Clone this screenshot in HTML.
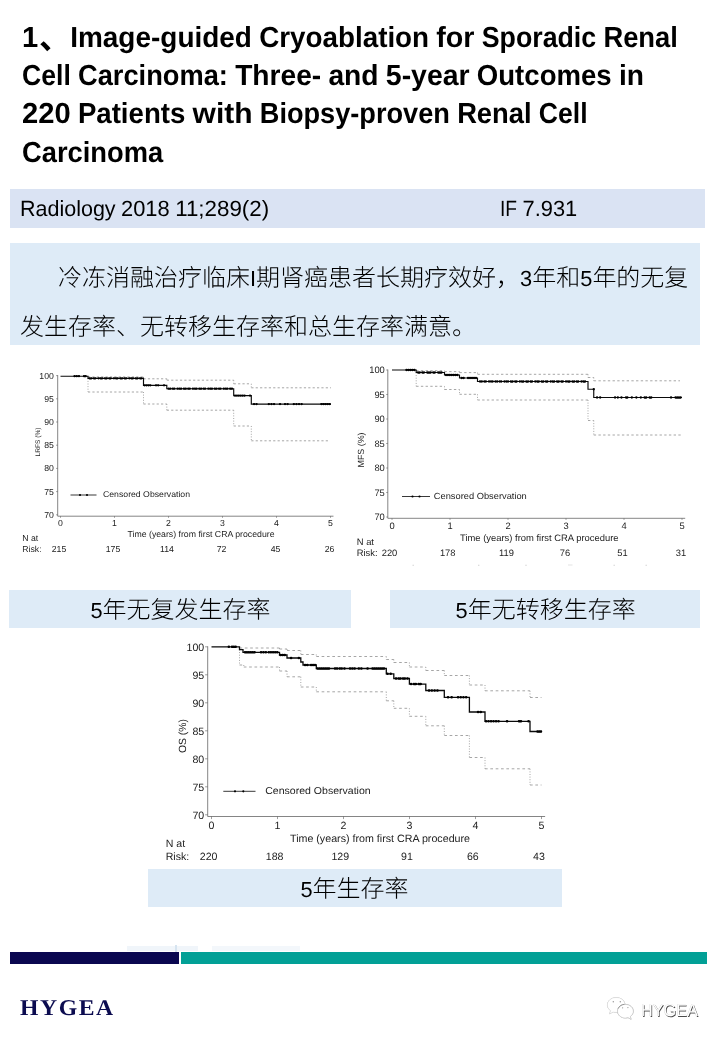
<!DOCTYPE html>
<html lang="zh"><head><meta charset="utf-8"><title>Image-guided Cryoablation for Sporadic Renal Cell Carcinoma</title>
<style>
html,body{margin:0;padding:0;background:#fff}
body{width:720px;height:1040px;position:relative;overflow:hidden;font-family:"Liberation Sans","Noto Sans CJK SC",sans-serif;color:#000;text-rendering:geometricPrecision;font-kerning:normal}
.abs{position:absolute}
.tl{position:absolute;left:22px;white-space:pre;font-weight:bold;font-size:29px;line-height:36px;height:36px;transform:scaleX(0.95);transform-origin:0 0;letter-spacing:0}
.box{position:absolute}
.bt{position:absolute;white-space:pre;font-size:22px;line-height:26px;height:26px;transform:scaleX(0.971);transform-origin:0 0}
svg text{font-family:"Liberation Sans","Noto Sans CJK SC",sans-serif;text-rendering:geometricPrecision}
#ov{position:absolute;left:0;top:0}
#root{position:absolute;left:0;top:0;width:720px;height:1040px;will-change:transform}
.hy{position:absolute;left:20px;top:994.2px;letter-spacing:1.5px;font-family:"Liberation Serif",serif;font-weight:bold;font-size:22.5px;line-height:28px;color:#0c0c50;white-space:pre;transform:scaleX(1.053);transform-origin:0 0}
.wm{position:absolute;left:640.7px;top:999.5px;font-size:17.2px;line-height:20px;color:#fff;white-space:pre;text-shadow:0.7px 0.7px 0.5px #4a4a4a,-0.3px -0.3px 0.4px #c8c8c8;transform:scaleX(0.945);transform-origin:0 0}
</style></head>
<body>
<div id="root">
<div class="box" style="left:10px;top:188.8px;width:695px;height:39.1px;background:#dae3f3"></div>

<div class="box" style="left:10px;top:243px;width:690px;height:102px;background:#deebf7"></div>
<div class="box" style="left:9px;top:590px;width:342px;height:38px;background:#deebf7"></div>
<div class="box" style="left:390px;top:590px;width:310px;height:38px;background:#deebf7"></div>
<div class="box" style="left:148px;top:869px;width:414px;height:38px;background:#deebf7"></div>

<div class="box" style="left:127px;top:945.5px;width:71px;height:5px;background:#f0f5fa"></div>
<div class="box" style="left:212px;top:945.5px;width:88px;height:5px;background:#f3f7fb"></div>
<div class="box" style="left:175px;top:945px;width:2px;height:6.5px;background:#d6e4f0"></div>
<div class="box" style="left:10px;top:951.7px;width:169.3px;height:12.3px;background:#0a0750"></div>
<div class="box" style="left:180.5px;top:951.7px;width:526.3px;height:12.3px;background:#02a096"></div>
<div class="hy">HYGEA</div>
<div class="wm">HYGEA</div>

<svg id="ov" width="720" height="1040" viewBox="0 0 720 1040">
<g id="cjk">
<text x="58.00" y="286.00" font-size="24" font-weight="300" fill="#000" textLength="192" lengthAdjust="spacingAndGlyphs">冷冻消融治疗临床</text>
<text x="250.00" y="286.00" font-size="21.8" font-weight="normal" fill="#000">I</text>
<text x="256.05" y="286.00" font-size="24" font-weight="300" fill="#000" textLength="264" lengthAdjust="spacingAndGlyphs">期肾癌患者长期疗效好，</text>
<text x="520.05" y="286.00" font-size="21.8" font-weight="normal" fill="#000">3</text>
<text x="532.22" y="286.00" font-size="24" font-weight="300" fill="#000" textLength="48" lengthAdjust="spacingAndGlyphs">年和</text>
<text x="580.22" y="286.00" font-size="21.8" font-weight="normal" fill="#000">5</text>
<text x="592.39" y="286.00" font-size="24" font-weight="300" fill="#000" textLength="96" lengthAdjust="spacingAndGlyphs">年的无复</text>
<text x="20.00" y="335.00" font-size="24" font-weight="300" fill="#000" textLength="456" lengthAdjust="spacingAndGlyphs">发生存率、无转移生存率和总生存率满意。</text>
<text x="90.41" y="618.00" font-size="21.8" font-weight="normal" fill="#000">5</text>
<text x="102.58" y="618.00" font-size="24" font-weight="300" fill="#000" textLength="168" lengthAdjust="spacingAndGlyphs">年无复发生存率</text>
<text x="455.51" y="618.00" font-size="21.8" font-weight="normal" fill="#000">5</text>
<text x="467.69" y="618.00" font-size="24" font-weight="300" fill="#000" textLength="168" lengthAdjust="spacingAndGlyphs">年无转移生存率</text>
<text x="300.42" y="897.00" font-size="21.8" font-weight="normal" fill="#000">5</text>
<text x="312.59" y="897.00" font-size="24" font-weight="300" fill="#000" textLength="96" lengthAdjust="spacingAndGlyphs">年生存率</text>
<text x="38.90" y="48.60" font-size="32" font-weight="bold" fill="#000">、</text>
</g>
<g id="latin">
<text y="46.80" font-size="29" font-weight="bold" fill="#000" xml:space="preserve"><tspan x="22.00" textLength="16.22" lengthAdjust="spacingAndGlyphs">1</tspan></text>
<text y="46.80" font-size="29" font-weight="bold" fill="#000" xml:space="preserve"><tspan x="70.20" textLength="181.75" lengthAdjust="spacingAndGlyphs">Image-guided</tspan> <tspan x="259.18" textLength="169.91" lengthAdjust="spacingAndGlyphs">Cryoablation</tspan> <tspan x="436.32" textLength="38.22" lengthAdjust="spacingAndGlyphs">for</tspan> <tspan x="481.78" textLength="114.39" lengthAdjust="spacingAndGlyphs">Sporadic</tspan> <tspan x="603.40" textLength="74.48" lengthAdjust="spacingAndGlyphs">Renal</tspan></text>
<text y="85.10" font-size="29" font-weight="bold" fill="#000" xml:space="preserve"><tspan x="22.00" textLength="48.77" lengthAdjust="spacingAndGlyphs">Cell</tspan> <tspan x="78.00" textLength="149.94" lengthAdjust="spacingAndGlyphs">Carcinoma:</tspan> <tspan x="235.17" textLength="86.05" lengthAdjust="spacingAndGlyphs">Three-</tspan> <tspan x="328.45" textLength="50.14" lengthAdjust="spacingAndGlyphs">and</tspan> <tspan x="385.83" textLength="83.78" lengthAdjust="spacingAndGlyphs">5-year</tspan> <tspan x="476.84" textLength="134.83" lengthAdjust="spacingAndGlyphs">Outcomes</tspan> <tspan x="618.91" textLength="25.03" lengthAdjust="spacingAndGlyphs">in</tspan></text>
<text y="123.40" font-size="29" font-weight="bold" fill="#000" xml:space="preserve"><tspan x="22.00" textLength="48.66" lengthAdjust="spacingAndGlyphs">220</tspan> <tspan x="77.89" textLength="107.48" lengthAdjust="spacingAndGlyphs">Patients</tspan> <tspan x="192.61" textLength="59.97" lengthAdjust="spacingAndGlyphs">with</tspan> <tspan x="259.81" textLength="190.09" lengthAdjust="spacingAndGlyphs">Biopsy-proven</tspan> <tspan x="457.14" textLength="74.48" lengthAdjust="spacingAndGlyphs">Renal</tspan> <tspan x="538.86" textLength="48.77" lengthAdjust="spacingAndGlyphs">Cell</tspan></text>
<text y="161.70" font-size="29" font-weight="bold" fill="#000" xml:space="preserve"><tspan x="22.00" textLength="141.11" lengthAdjust="spacingAndGlyphs">Carcinoma</tspan></text>
<text y="215.90" font-size="22" font-weight="normal" fill="#000" xml:space="preserve"><tspan x="20.00" textLength="95.62" lengthAdjust="spacingAndGlyphs">Radiology</tspan> <tspan x="121.06" textLength="48.66" lengthAdjust="spacingAndGlyphs">2018</tspan> <tspan x="175.16" textLength="93.97" lengthAdjust="spacingAndGlyphs">11;289(2)</tspan></text>
<text y="215.90" font-size="22" font-weight="normal" fill="#000" xml:space="preserve"><tspan x="500.00" textLength="17.08" lengthAdjust="spacingAndGlyphs">IF</tspan> <tspan x="522.52" textLength="54.72" lengthAdjust="spacingAndGlyphs">7.931</tspan></text>
</g>
<g id="chart1">
<path d="M57.70 375.10V516.20H333.47" fill="none" stroke="#5c5c5c" stroke-width="0.75"/>
<path d="M56.10 375.60H57.70M56.10 398.80H57.70M56.10 422.00H57.70M56.10 445.20H57.70M56.10 468.40H57.70M56.10 491.60H57.70M56.10 514.80H57.70M60.50 516.20V517.80M114.50 516.20V517.80M168.50 516.20V517.80M222.50 516.20V517.80M276.50 516.20V517.80M330.50 516.20V517.80" fill="none" stroke="#5c5c5c" stroke-width="0.6"/>
<text x="53.80" y="378.69" font-size="8.7" text-anchor="end" fill="#222">100</text>
<text x="53.80" y="401.89" font-size="8.7" text-anchor="end" fill="#222">95</text>
<text x="53.80" y="425.09" font-size="8.7" text-anchor="end" fill="#222">90</text>
<text x="53.80" y="448.29" font-size="8.7" text-anchor="end" fill="#222">85</text>
<text x="53.80" y="471.49" font-size="8.7" text-anchor="end" fill="#222">80</text>
<text x="53.80" y="494.69" font-size="8.7" text-anchor="end" fill="#222">75</text>
<text x="53.80" y="517.89" font-size="8.7" text-anchor="end" fill="#222">70</text>
<text x="60.50" y="526.39" font-size="8.7" text-anchor="middle" fill="#222">0</text>
<text x="114.50" y="526.39" font-size="8.7" text-anchor="middle" fill="#222">1</text>
<text x="168.50" y="526.39" font-size="8.7" text-anchor="middle" fill="#222">2</text>
<text x="222.50" y="526.39" font-size="8.7" text-anchor="middle" fill="#222">3</text>
<text x="276.50" y="526.39" font-size="8.7" text-anchor="middle" fill="#222">4</text>
<text x="330.50" y="526.39" font-size="8.7" text-anchor="middle" fill="#222">5</text>
<text x="127.50" y="536.89" font-size="8.7" fill="#222" textLength="147" lengthAdjust="spacingAndGlyphs">Time (years) from first CRA procedure</text>
<text transform="translate(39.80,442.00) rotate(-90)" font-size="6.6" text-anchor="middle" fill="#222">LRFS (%)</text>
<text x="22.30" y="541.39" font-size="8.7" fill="#222">N at</text>
<text x="22.30" y="552.09" font-size="8.7" fill="#222">Risk:</text>
<text x="59.00" y="552.09" font-size="8.7" text-anchor="middle" fill="#222">215</text>
<text x="113.00" y="552.09" font-size="8.7" text-anchor="middle" fill="#222">175</text>
<text x="167.00" y="552.09" font-size="8.7" text-anchor="middle" fill="#222">114</text>
<text x="221.50" y="552.09" font-size="8.7" text-anchor="middle" fill="#222">72</text>
<text x="275.50" y="552.09" font-size="8.7" text-anchor="middle" fill="#222">45</text>
<text x="329.50" y="552.09" font-size="8.7" text-anchor="middle" fill="#222">26</text>
<path d="M70.50 495.00H96.50" stroke="#222" stroke-width="0.9" fill="none"/>
<circle cx="80.00" cy="495.00" r="1.1" fill="#000"/>
<circle cx="87.00" cy="495.00" r="1.1" fill="#000"/>
<text x="103.00" y="497.25" font-size="8.3" fill="#222" textLength="87" lengthAdjust="spacingAndGlyphs">Censored Observation</text>
<path d="M88.00 376.90H143.50M143.50 378.80H166.80M166.80 380.20H233.70M233.70 383.80H251.30M251.30 387.80H331.00" fill="none" stroke="#9c9c9c" stroke-width="0.9" stroke-dasharray="2.19 2.19"/>
<path d="M143.50 376.90V378.80M166.80 378.80V380.20M233.70 380.20V383.80M251.30 383.80V387.80" fill="none" stroke="#9c9c9c" stroke-width="0.9" stroke-dasharray="1 1.6"/>
<path d="M88.00 392.00H143.50M143.50 404.00H166.80M166.80 410.20H233.70M233.70 426.00H251.30M251.30 440.80H329.00" fill="none" stroke="#9c9c9c" stroke-width="0.9" stroke-dasharray="2.19 2.19"/>
<path d="M88.00 378.30V392.00M143.50 392.00V404.00M166.80 404.00V410.20M233.70 410.20V426.00M251.30 426.00V440.80" fill="none" stroke="#9c9c9c" stroke-width="0.9" stroke-dasharray="1 1.6"/>
<path d="M60.50 376.20H88.00V378.30H143.50V385.30H166.80V388.70H233.70V395.60H251.30V404.10H331.00" fill="none" stroke="#0a0a0a" stroke-width="1.15" stroke-linejoin="miter"/>
<path d="M74.50 376.20H81.00" stroke="#000" stroke-width="2.3" stroke-linecap="round" stroke-dasharray="0.1 2.1" fill="none"/>
<path d="M84.00 376.20H87.00" stroke="#000" stroke-width="2.3" stroke-linecap="round" stroke-dasharray="0.1 1.5" fill="none"/>
<path d="M89.50 378.30H141.60" stroke="#000" stroke-width="2.3" stroke-linecap="round" stroke-dasharray="0.1 1.7 0.1 2.4 0.1 1.4 0.1 3.1 0.1 1.9 0.1 1.5 0.1 2.7" fill="none"/>
<path d="M144.50 385.30H152.00" stroke="#000" stroke-width="2.3" stroke-linecap="round" stroke-dasharray="0.1 1.8" fill="none"/>
<path d="M156.00 385.30H160.00" stroke="#000" stroke-width="2.3" stroke-linecap="round" stroke-dasharray="0.1 2" fill="none"/>
<path d="M164.00 385.30H166.00" stroke="#000" stroke-width="2.3" stroke-linecap="round" stroke-dasharray="0.1 2" fill="none"/>
<path d="M168.50 388.70H232.50" stroke="#000" stroke-width="2.3" stroke-linecap="round" stroke-dasharray="0.1 1.7 0.1 2.4 0.1 1.4 0.1 3.1 0.1 1.9 0.1 1.5 0.1 2.7" fill="none"/>
<path d="M235.00 395.60H246.00" stroke="#000" stroke-width="2.3" stroke-linecap="round" stroke-dasharray="0.1 1.8" fill="none"/>
<path d="M250.00 395.60H250.10" stroke="#000" stroke-width="2.3" stroke-linecap="round" stroke-dasharray="0.1 9" fill="none"/>
<path d="M254.00 404.10H258.80" stroke="#000" stroke-width="2.3" stroke-linecap="round" stroke-dasharray="0.1 2.4" fill="none"/>
<path d="M268.80 404.10H276.30" stroke="#000" stroke-width="2.3" stroke-linecap="round" stroke-dasharray="0.1 2.5" fill="none"/>
<path d="M280.00 404.10H280.10" stroke="#000" stroke-width="2.3" stroke-linecap="round" stroke-dasharray="0.1 9" fill="none"/>
<path d="M285.00 404.10H290.00" stroke="#000" stroke-width="2.3" stroke-linecap="round" stroke-dasharray="0.1 2.5" fill="none"/>
<path d="M293.80 404.10H303.80" stroke="#000" stroke-width="2.3" stroke-linecap="round" stroke-dasharray="0.1 2.5" fill="none"/>
<path d="M321.30 404.10H331.30" stroke="#000" stroke-width="2.3" stroke-linecap="round" stroke-dasharray="0.1 2" fill="none"/>
</g>
<g id="chart2">
<path d="M387.80 369.50V518.30H685.19" fill="none" stroke="#5c5c5c" stroke-width="0.75"/>
<path d="M386.20 370.00H387.80M386.20 394.50H387.80M386.20 419.00H387.80M386.20 443.50H387.80M386.20 468.00H387.80M386.20 492.50H387.80M386.20 517.00H387.80M392.00 518.30V519.90M450.00 518.30V519.90M508.00 518.30V519.90M566.00 518.30V519.90M624.00 518.30V519.90M682.00 518.30V519.90" fill="none" stroke="#5c5c5c" stroke-width="0.6"/>
<text x="384.80" y="373.32" font-size="9.35" text-anchor="end" fill="#222">100</text>
<text x="384.80" y="397.82" font-size="9.35" text-anchor="end" fill="#222">95</text>
<text x="384.80" y="422.32" font-size="9.35" text-anchor="end" fill="#222">90</text>
<text x="384.80" y="446.82" font-size="9.35" text-anchor="end" fill="#222">85</text>
<text x="384.80" y="471.32" font-size="9.35" text-anchor="end" fill="#222">80</text>
<text x="384.80" y="495.82" font-size="9.35" text-anchor="end" fill="#222">75</text>
<text x="384.80" y="520.32" font-size="9.35" text-anchor="end" fill="#222">70</text>
<text x="392.00" y="529.02" font-size="9.35" text-anchor="middle" fill="#222">0</text>
<text x="450.00" y="529.02" font-size="9.35" text-anchor="middle" fill="#222">1</text>
<text x="508.00" y="529.02" font-size="9.35" text-anchor="middle" fill="#222">2</text>
<text x="566.00" y="529.02" font-size="9.35" text-anchor="middle" fill="#222">3</text>
<text x="624.00" y="529.02" font-size="9.35" text-anchor="middle" fill="#222">4</text>
<text x="682.00" y="529.02" font-size="9.35" text-anchor="middle" fill="#222">5</text>
<text x="460.00" y="541.32" font-size="9.35" fill="#222" textLength="158.5" lengthAdjust="spacingAndGlyphs">Time (years) from first CRA procedure</text>
<text transform="translate(364.20,450.00) rotate(-90)" font-size="8.9" text-anchor="middle" fill="#222">MFS (%)</text>
<text x="356.80" y="545.42" font-size="9.35" fill="#222">N at</text>
<text x="356.80" y="555.92" font-size="9.35" fill="#222">Risk:</text>
<text x="389.50" y="555.92" font-size="9.35" text-anchor="middle" fill="#222">220</text>
<text x="447.70" y="555.92" font-size="9.35" text-anchor="middle" fill="#222">178</text>
<text x="506.50" y="555.92" font-size="9.35" text-anchor="middle" fill="#222">119</text>
<text x="565.00" y="555.92" font-size="9.35" text-anchor="middle" fill="#222">76</text>
<text x="622.50" y="555.92" font-size="9.35" text-anchor="middle" fill="#222">51</text>
<text x="681.00" y="555.92" font-size="9.35" text-anchor="middle" fill="#222">31</text>
<path d="M402.00 496.50H430.00" stroke="#222" stroke-width="0.9" fill="none"/>
<circle cx="412.50" cy="496.50" r="1.1" fill="#000"/>
<circle cx="419.50" cy="496.50" r="1.1" fill="#000"/>
<text x="433.80" y="499.14" font-size="8.85" fill="#222" textLength="93" lengthAdjust="spacingAndGlyphs">Censored Observation</text>
<path d="M416.20 370.70H444.50M444.50 371.60H459.50M459.50 372.60H477.50M477.50 374.30H588.00M588.00 377.50H593.75M593.75 380.80H680.00" fill="none" stroke="#9c9c9c" stroke-width="0.9" stroke-dasharray="2.35 2.35"/>
<path d="M444.50 370.70V371.60M459.50 371.60V372.60M477.50 372.60V374.30M588.00 374.30V377.50M593.75 377.50V380.80" fill="none" stroke="#9c9c9c" stroke-width="0.9" stroke-dasharray="1 1.6"/>
<path d="M416.20 386.30H444.50M444.50 389.50H459.50M459.50 394.30H477.50M477.50 400.00H588.00M588.00 420.50H593.75M593.75 435.00H681.00" fill="none" stroke="#9c9c9c" stroke-width="0.9" stroke-dasharray="2.35 2.35"/>
<path d="M416.20 372.50V386.30M444.50 386.30V389.50M459.50 389.50V394.30M477.50 394.30V400.00M588.00 400.00V420.50M593.75 420.50V435.00" fill="none" stroke="#9c9c9c" stroke-width="0.9" stroke-dasharray="1 1.6"/>
<path d="M392.00 370.00H416.20V372.50H444.50V375.00H459.50V378.00H477.50V381.50H588.00V389.25H593.75V397.50H682.00" fill="none" stroke="#0a0a0a" stroke-width="1.15" stroke-linejoin="miter"/>
<path d="M406.40 370.00H414.50" stroke="#000" stroke-width="2.3" stroke-linecap="round" stroke-dasharray="0.1 1.9" fill="none"/>
<path d="M418.00 372.50H443.00" stroke="#000" stroke-width="2.3" stroke-linecap="round" stroke-dasharray="0.1 1.6 0.1 2.5 0.1 1.5 0.1 3.2 0.1 1.6" fill="none"/>
<path d="M446.00 375.00H458.00" stroke="#000" stroke-width="2.3" stroke-linecap="round" stroke-dasharray="0.1 1.8" fill="none"/>
<path d="M461.50 378.00H464.00" stroke="#000" stroke-width="2.3" stroke-linecap="round" stroke-dasharray="0.1 2" fill="none"/>
<path d="M468.00 378.00H476.00" stroke="#000" stroke-width="2.3" stroke-linecap="round" stroke-dasharray="0.1 1.9" fill="none"/>
<path d="M480.00 381.50H587.00" stroke="#000" stroke-width="2.3" stroke-linecap="round" stroke-dasharray="0.1 1.7 0.1 2.4 0.1 1.4 0.1 3.1 0.1 1.9 0.1 1.5 0.1 2.7" fill="none"/>
<path d="M593.75 389.25H593.80" stroke="#000" stroke-width="2.3" stroke-linecap="round" stroke-dasharray="0.1 9" fill="none"/>
<path d="M597.00 397.50H600.20" stroke="#000" stroke-width="2.3" stroke-linecap="round" stroke-dasharray="0.1 3" fill="none"/>
<path d="M615.00 397.50H652.20" stroke="#000" stroke-width="2.3" stroke-linecap="round" stroke-dasharray="0.1 2.7 0.1 3.5 0.1 4.5 0.1 1.2 0.1 4.4 0.1 4.4 0.1 4.4 0.1 3.7 0.1 1.5 0.1 3.3 0.1 1.5 0.1 40" fill="none"/>
<path d="M671.00 397.50H671.10" stroke="#000" stroke-width="2.3" stroke-linecap="round" stroke-dasharray="0.1 9" fill="none"/>
<path d="M675.50 397.50H682.00" stroke="#000" stroke-width="2.3" stroke-linecap="round" stroke-dasharray="0.1 1.6" fill="none"/>
</g>
<g id="chart3">
<path d="M207.70 646.30V816.50H545.13" fill="none" stroke="#5c5c5c" stroke-width="0.75"/>
<path d="M205.10 646.80H207.70M205.10 674.80H207.70M205.10 702.80H207.70M205.10 730.80H207.70M205.10 758.80H207.70M205.10 786.80H207.70M205.10 814.80H207.70M211.50 816.50V819.10M277.50 816.50V819.10M343.50 816.50V819.10M409.50 816.50V819.10M475.50 816.50V819.10M541.50 816.50V819.10" fill="none" stroke="#5c5c5c" stroke-width="0.6"/>
<text x="204.20" y="650.56" font-size="10.6" text-anchor="end" fill="#222">100</text>
<text x="204.20" y="678.56" font-size="10.6" text-anchor="end" fill="#222">95</text>
<text x="204.20" y="706.56" font-size="10.6" text-anchor="end" fill="#222">90</text>
<text x="204.20" y="734.56" font-size="10.6" text-anchor="end" fill="#222">85</text>
<text x="204.20" y="762.56" font-size="10.6" text-anchor="end" fill="#222">80</text>
<text x="204.20" y="790.56" font-size="10.6" text-anchor="end" fill="#222">75</text>
<text x="204.20" y="818.56" font-size="10.6" text-anchor="end" fill="#222">70</text>
<text x="211.50" y="828.76" font-size="10.6" text-anchor="middle" fill="#222">0</text>
<text x="277.50" y="828.76" font-size="10.6" text-anchor="middle" fill="#222">1</text>
<text x="343.50" y="828.76" font-size="10.6" text-anchor="middle" fill="#222">2</text>
<text x="409.50" y="828.76" font-size="10.6" text-anchor="middle" fill="#222">3</text>
<text x="475.50" y="828.76" font-size="10.6" text-anchor="middle" fill="#222">4</text>
<text x="541.50" y="828.76" font-size="10.6" text-anchor="middle" fill="#222">5</text>
<text x="290.00" y="841.76" font-size="10.6" fill="#222" textLength="180" lengthAdjust="spacingAndGlyphs">Time (years) from first CRA procedure</text>
<text transform="translate(186.00,736.00) rotate(-90)" font-size="10.4" text-anchor="middle" fill="#222">OS (%)</text>
<text x="165.70" y="847.06" font-size="10.6" fill="#222">N at</text>
<text x="165.70" y="860.06" font-size="10.6" fill="#222">Risk:</text>
<text x="208.60" y="860.06" font-size="10.6" text-anchor="middle" fill="#222">220</text>
<text x="274.60" y="860.06" font-size="10.6" text-anchor="middle" fill="#222">188</text>
<text x="340.30" y="860.06" font-size="10.6" text-anchor="middle" fill="#222">129</text>
<text x="407.00" y="860.06" font-size="10.6" text-anchor="middle" fill="#222">91</text>
<text x="472.80" y="860.06" font-size="10.6" text-anchor="middle" fill="#222">66</text>
<text x="539.00" y="860.06" font-size="10.6" text-anchor="middle" fill="#222">43</text>
<path d="M223.30 791.30H255.50" stroke="#222" stroke-width="0.9" fill="none"/>
<circle cx="235.00" cy="791.30" r="1.1" fill="#000"/>
<circle cx="243.30" cy="791.30" r="1.1" fill="#000"/>
<text x="265.20" y="793.87" font-size="10.05" fill="#222" textLength="105.5" lengthAdjust="spacingAndGlyphs">Censored Observation</text>
<path d="M239.50 648.00H279.50M279.50 649.00H287.00M287.00 650.50H300.80M300.80 654.50H316.30M316.30 656.50H386.30M386.30 659.50H393.80M393.80 662.50H409.40M409.40 667.00H425.80M425.80 670.50H444.30M444.30 675.50H469.40M469.40 685.00H485.00M485.00 690.80H530.00M530.00 697.50H541.50" fill="none" stroke="#9c9c9c" stroke-width="0.9" stroke-dasharray="2.67 2.67"/>
<path d="M279.50 648.00V649.00M287.00 649.00V650.50M300.80 650.50V654.50M316.30 654.50V656.50M386.30 656.50V659.50M393.80 659.50V662.50M409.40 662.50V667.00M425.80 667.00V670.50M444.30 670.50V675.50M469.40 675.50V685.00M485.00 685.00V690.80M530.00 690.80V697.50" fill="none" stroke="#9c9c9c" stroke-width="0.9" stroke-dasharray="1 1.6"/>
<path d="M239.50 665.00H243.80M243.80 667.00H279.50M279.50 671.00H287.00M287.00 676.80H300.80M300.80 687.00H316.30M316.30 691.80H386.30M386.30 700.80H393.80M393.80 708.30H409.40M409.40 716.30H425.80M425.80 725.80H444.30M444.30 735.50H469.40M469.40 757.50H485.00M485.00 768.80H530.00M530.00 785.00H541.50" fill="none" stroke="#9c9c9c" stroke-width="0.9" stroke-dasharray="2.67 2.67"/>
<path d="M239.50 649.50V665.00M243.80 665.00V667.00M279.50 667.00V671.00M287.00 671.00V676.80M300.80 676.80V687.00M316.30 687.00V691.80M386.30 691.80V700.80M393.80 700.80V708.30M409.40 708.30V716.30M425.80 716.30V725.80M444.30 725.80V735.50M469.40 735.50V757.50M485.00 757.50V768.80M530.00 768.80V785.00" fill="none" stroke="#9c9c9c" stroke-width="0.9" stroke-dasharray="1 1.6"/>
<path d="M211.50 646.80H239.50V649.60H243.00V652.30H279.50V655.00H287.00V658.00H300.80V662.00H303.00V665.00H316.30V668.50H386.30V673.80H393.80V678.50H409.40V684.10H425.80V690.50H444.30V697.30H469.40V712.00H485.00V721.30H530.00V731.50H541.80" fill="none" stroke="#0a0a0a" stroke-width="1.3" stroke-linejoin="miter"/>
<path d="M228.80 646.80H228.90" stroke="#000" stroke-width="2.5" stroke-linecap="round" stroke-dasharray="0.1 9" fill="none"/>
<path d="M232.00 646.80H236.30" stroke="#000" stroke-width="2.5" stroke-linecap="round" stroke-dasharray="0.1 1.7" fill="none"/>
<path d="M245.00 652.30H256.00" stroke="#000" stroke-width="2.5" stroke-linecap="round" stroke-dasharray="0.1 1.8" fill="none"/>
<path d="M261.00 652.30H266.00" stroke="#000" stroke-width="2.5" stroke-linecap="round" stroke-dasharray="0.1 2.3" fill="none"/>
<path d="M268.80 652.30H278.80" stroke="#000" stroke-width="2.5" stroke-linecap="round" stroke-dasharray="0.1 2" fill="none"/>
<path d="M280.50 655.00H285.00" stroke="#000" stroke-width="2.5" stroke-linecap="round" stroke-dasharray="0.1 2" fill="none"/>
<path d="M291.00 658.00H291.10" stroke="#000" stroke-width="2.5" stroke-linecap="round" stroke-dasharray="0.1 9" fill="none"/>
<path d="M298.80 658.00H298.90" stroke="#000" stroke-width="2.5" stroke-linecap="round" stroke-dasharray="0.1 9" fill="none"/>
<path d="M305.00 665.00H307.50" stroke="#000" stroke-width="2.5" stroke-linecap="round" stroke-dasharray="0.1 2.2" fill="none"/>
<path d="M311.00 665.00H315.00" stroke="#000" stroke-width="2.5" stroke-linecap="round" stroke-dasharray="0.1 1.9" fill="none"/>
<path d="M317.50 668.50H330.00" stroke="#000" stroke-width="2.5" stroke-linecap="round" stroke-dasharray="0.1 1.8" fill="none"/>
<path d="M335.00 668.50H346.00" stroke="#000" stroke-width="2.5" stroke-linecap="round" stroke-dasharray="0.1 1.9 0.1 2.6" fill="none"/>
<path d="M350.00 668.50H355.00" stroke="#000" stroke-width="2.5" stroke-linecap="round" stroke-dasharray="0.1 2.2" fill="none"/>
<path d="M358.80 668.50H363.80" stroke="#000" stroke-width="2.5" stroke-linecap="round" stroke-dasharray="0.1 2.4" fill="none"/>
<path d="M367.50 668.50H367.60" stroke="#000" stroke-width="2.5" stroke-linecap="round" stroke-dasharray="0.1 9" fill="none"/>
<path d="M372.50 668.50H385.50" stroke="#000" stroke-width="2.5" stroke-linecap="round" stroke-dasharray="0.1 1.8" fill="none"/>
<path d="M387.50 673.80H391.00" stroke="#000" stroke-width="2.5" stroke-linecap="round" stroke-dasharray="0.1 3" fill="none"/>
<path d="M396.00 678.50H408.00" stroke="#000" stroke-width="2.5" stroke-linecap="round" stroke-dasharray="0.1 2.5 0.1 1.7" fill="none"/>
<path d="M411.00 684.10H422.00" stroke="#000" stroke-width="2.5" stroke-linecap="round" stroke-dasharray="0.1 2.8 0.1 1.8" fill="none"/>
<path d="M429.00 690.50H438.00" stroke="#000" stroke-width="2.5" stroke-linecap="round" stroke-dasharray="0.1 2.7" fill="none"/>
<path d="M448.00 697.30H452.00" stroke="#000" stroke-width="2.5" stroke-linecap="round" stroke-dasharray="0.1 3.5" fill="none"/>
<path d="M458.00 697.30H468.00" stroke="#000" stroke-width="2.5" stroke-linecap="round" stroke-dasharray="0.1 2.6" fill="none"/>
<path d="M478.00 712.00H483.00" stroke="#000" stroke-width="2.5" stroke-linecap="round" stroke-dasharray="0.1 2.6" fill="none"/>
<path d="M486.00 721.30H499.00" stroke="#000" stroke-width="2.5" stroke-linecap="round" stroke-dasharray="0.1 2.4" fill="none"/>
<path d="M507.00 721.30H507.10" stroke="#000" stroke-width="2.5" stroke-linecap="round" stroke-dasharray="0.1 9" fill="none"/>
<path d="M519.00 721.30H521.00" stroke="#000" stroke-width="2.5" stroke-linecap="round" stroke-dasharray="0.1 1.8" fill="none"/>
<path d="M528.50 721.30H528.60" stroke="#000" stroke-width="2.5" stroke-linecap="round" stroke-dasharray="0.1 9" fill="none"/>
<path d="M537.50 731.50H541.80" stroke="#000" stroke-width="2.5" stroke-linecap="round" stroke-dasharray="0.1 1.6" fill="none"/>
</g>
<g id="specks" fill="#c6c6c6"><rect x="412.5" y="564.8" width="1.4" height="0.8"/><rect x="478" y="564.8" width="1.4" height="0.8"/><rect x="525.3" y="564.8" width="1.4" height="0.8"/><rect x="568" y="564.6" width="4.5" height="0.8" fill="#dcdcdc"/><rect x="613.5" y="564.8" width="1.4" height="0.8"/><rect x="645.5" y="564.8" width="1.4" height="0.8"/></g>
<g id="wechat">
<g fill="#fff" stroke="#e4e4e4" stroke-width="0.5" style="filter:drop-shadow(0.5px 0.6px 0.35px rgba(0,0,0,0.4))">
<path d="M616.2 997.6c-4.9 0-8.8 3.3-8.8 7.4 0 2.3 1.3 4.4 3.2 5.7l-1 3.1 3.6-1.9c1 .3 2 .4 3 .4 4.9 0 8.8-3.300 8.800-7.400s-3.900-7.300-8.800-7.300z"/>
</g>
<g fill="#fff" stroke="#cfcfcf" stroke-width="0.6" style="filter:drop-shadow(0.5px 0.6px 0.35px rgba(0,0,0,0.4))">
<path d="M625.4 1004.4c-4.400 0-7.900 3-7.900 6.800s3.500 6.800 7.900 6.800c.9 0 1.800-.1 2.600-.4l3.100 1.700-.8-2.800c1.800-1.300 3-3.200 3-5.300 0-3.800-3.500-6.800-7.900-6.800z"/>
</g>
<path d="M618.2 1008.6c.8-2.300 3.200-4 6.200-4.300" fill="none" stroke="#8a8a8a" stroke-width="0.8"/>
<g fill="#9a9a9a"><circle cx="613.3" cy="1001.8" r="0.75"/><circle cx="620.3" cy="1001.8" r="0.75"/><circle cx="622.6" cy="1007.8" r="0.65"/><circle cx="627.9" cy="1007.6" r="0.65"/></g>
</g>
</svg>
</div>
</body></html>
